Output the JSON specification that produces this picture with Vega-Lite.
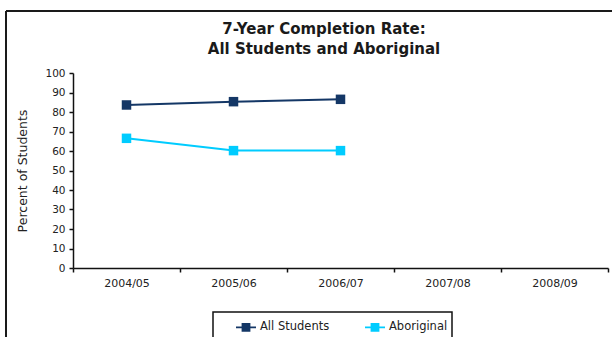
{
  "$schema": "https://vega.github.io/schema/vega-lite/v6.json",
  "width": 606,
  "height": 326,
  "autosize": {"type": "none"},
  "padding": {"left": 6, "top": 11, "right": 0, "bottom": 0},
  "background": "white",
  "config": {
    "font": "DejaVu Sans",
    "view": {"stroke": "#1a1a1a", "strokeWidth": 2, "strokeDash": [606, 932, 326, 0]}
  },
  "title": {
    "text": ["7-Year Completion Rate:", "All Students and Aboriginal"],
    "font": "DejaVu Sans",
    "fontSize": 15,
    "fontWeight": "bold",
    "color": "#1a1a1a",
    "anchor": "middle",
    "frame": "group",
    "baseline": "top",
    "lineHeight": 20,
    "dx": 15,
    "offset": -46
  },
  "data": {
    "values": [
      {"year": "2004/05", "group": "All Students", "rate": 83.6},
      {"year": "2005/06", "group": "All Students", "rate": 85.3},
      {"year": "2006/07", "group": "All Students", "rate": 86.5},
      {"year": "2004/05", "group": "Aboriginal", "rate": 66.5},
      {"year": "2005/06", "group": "Aboriginal", "rate": 60.2},
      {"year": "2006/07", "group": "Aboriginal", "rate": 60.2}
    ]
  },
  "encoding": {
    "x": {
      "field": "year",
      "type": "nominal",
      "scale": {
        "type": "band",
        "domain": ["2004/05", "2005/06", "2006/07", "2007/08", "2008/09"],
        "range": [67, 602],
        "paddingInner": 0,
        "paddingOuter": 0
      },
      "axis": {
        "title": null,
        "offset": -69,
        "tickBand": "extent",
        "labelAngle": 0,
        "labelFont": "DejaVu Sans",
        "labelFontSize": 11,
        "labelColor": "#222",
        "labelPadding": 5,
        "tickSize": 4,
        "tickColor": "#111",
        "domainColor": "#111",
        "domainWidth": 1.5,
        "tickWidth": 1.5,
        "grid": false
      }
    },
    "y": {
      "field": "rate",
      "type": "quantitative",
      "scale": {"domain": [0, 100], "range": [257, 62], "nice": false},
      "axis": {
        "title": "Percent of Students",
        "titleFont": "DejaVu Sans",
        "titleFontSize": 12.5,
        "titleFontWeight": "normal",
        "titleColor": "#222",
        "titlePadding": 15,
        "offset": -67,
        "values": [0, 10, 20, 30, 40, 50, 60, 70, 80, 90, 100],
        "labelFont": "DejaVu Sans",
        "labelFontSize": 10.5,
        "labelColor": "#222",
        "labelPadding": 4,
        "tickSize": 4,
        "tickColor": "#111",
        "domainColor": "#111",
        "domainWidth": 1.5,
        "tickWidth": 1.5,
        "grid": false
      }
    },
    "color": {
      "field": "group",
      "type": "nominal",
      "scale": {"domain": ["All Students", "Aboriginal"], "range": ["#143766", "#00ccff"]},
      "legend": {
        "orient": "none",
        "legendX": 207,
        "legendY": 301,
        "direction": "horizontal",
        "title": null,
        "strokeColor": "#111",
        "padding": 4,
        "symbolOffset": 18,
        "symbolType": "M-1,0H1M-0.35,-0.35H0.35V0.35H-0.35Z",
        "symbolSize": 400,
        "symbolStrokeWidth": 1.8,
        "labelFont": "DejaVu Sans",
        "labelFontSize": 11.5,
        "labelColor": "#222",
        "labelOffset": 3,
        "columnPadding": 16,
        "encode": {
          "legend": {"update": {"strokeWidth": {"value": 1.5}}},
          "symbols": {
            "update": {
              "fill": {"scale": "color", "field": "value"},
              "stroke": {"scale": "color", "field": "value"},
              "opacity": {"value": 1}
            }
          }
        }
      }
    }
  },
  "layer": [
    {"mark": {"type": "line", "strokeWidth": 2}},
    {"mark": {"type": "point", "shape": "square", "filled": true, "size": 90, "opacity": 1}}
  ]
}
